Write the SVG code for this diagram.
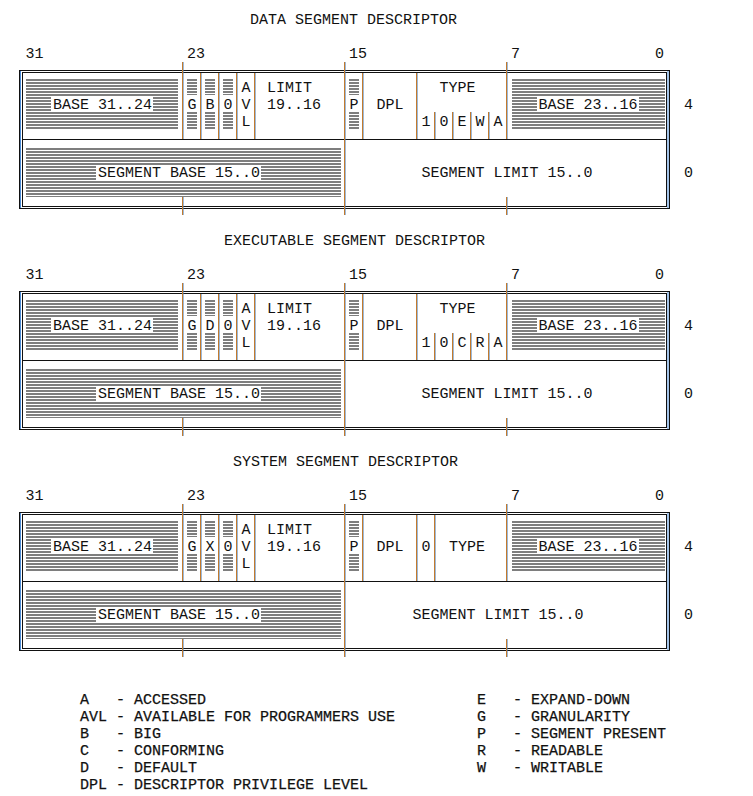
<svg xmlns="http://www.w3.org/2000/svg" width="753" height="796" viewBox="0 0 753 796">
<style>
text{font-family:"Liberation Mono","DejaVu Sans Mono",monospace;font-size:15px;fill:#111}
.m{text-anchor:middle}
.bd{fill:none;stroke:#111;stroke-width:1}
.bl{fill:none;stroke:#4a8ad4;stroke-width:1}
.dv{fill:none;stroke:#c27a2e;stroke-width:1}
.dvb{fill:none;stroke:#4d7fb8;stroke-width:1;opacity:.55}
.sh{fill:url(#stripes)}
.wb{fill:#fff}
.lg text{stroke:#111;stroke-width:0.25}
</style>
<defs>
<pattern id="stripes" patternUnits="userSpaceOnUse" x="0" y="79" width="6" height="3">
<rect x="0" y="0" width="6" height="2" fill="#7e7e7e"/>
</pattern>
</defs>
<rect width="753" height="796" fill="#fff"/>

<!-- DATA SEGMENT DESCRIPTOR -->
<g id="data-descriptor">
<text x="250" y="24">DATA SEGMENT DESCRIPTOR</text>
<g id="data-bits"><text x="25.5" y="58">31</text><text x="187" y="58">23</text><text x="349" y="58">15</text><text x="511" y="58">7</text><text x="655" y="58">0</text></g>
<g id="data-frame">
<rect class="bd" x="19.5" y="70.5" width="650" height="138"/>
<rect class="bd" x="22.5" y="72.5" width="644" height="134"/>
<path class="bl" d="M20.5 71V208M668 71V208"/>
<path class="bd" d="M22.5 139.5H666.5"/>
</g>
<g id="data-shading">
<rect class="sh" x="26" y="79" width="152" height="51"/><rect class="wb" x="51" y="96" width="102" height="16"/>
<rect class="sh" x="187" y="79" width="10" height="51"/><rect class="wb" x="187" y="95" width="10" height="17"/>
<rect class="sh" x="205" y="79" width="10" height="51"/><rect class="wb" x="205" y="95" width="10" height="17"/>
<rect class="sh" x="223" y="79" width="10" height="51"/><rect class="wb" x="223" y="95" width="10" height="17"/>
<rect class="sh" x="349" y="79" width="10" height="51"/><rect class="wb" x="349" y="95" width="10" height="17"/>
<rect class="sh" x="512" y="79" width="153" height="51"/><rect class="wb" x="537" y="97" width="102" height="15"/>
<rect class="sh" x="26" y="148" width="315" height="49"/><rect class="wb" x="96" y="165" width="165" height="16"/>
</g>
<g id="data-dividers">
<path class="dv" d="M182.5 62V139M182.5 197V215M344.5 62V215M506.5 62V139M506.5 197V215M200.5 73V139M218.5 73V139M236.5 73V139M254.5 73V139M362.5 73V139M416.5 73V139M434.5 112V139M452.5 112V139M470.5 112V139M488.5 112V139"/>
<path class="dvb" d="M183.5 62V139M183.5 197V215M345.5 62V215M507.5 62V139M507.5 197V215M201.5 73V139M219.5 73V139M237.5 73V139M255.5 73V139M363.5 73V139M417.5 73V139M435.5 112V139M453.5 112V139M471.5 112V139M489.5 112V139"/>
</g>
<g id="data-base-31-24"><text class="m" x="102.5" y="109">BASE 31..24</text></g>
<g id="data-g"><text class="m" x="192" y="109">G</text></g>
<g id="data-b"><text class="m" x="210" y="109">B</text></g>
<g id="data-0"><text class="m" x="228" y="109">0</text></g>
<g id="data-avl"><text class="m" x="246" y="92">A</text><text class="m" x="246" y="109">V</text><text class="m" x="246" y="126">L</text></g>
<g id="data-limit"><text x="267" y="92">LIMIT</text><text x="267" y="109">19..16</text></g>
<g id="data-p"><text class="m" x="354" y="109">P</text></g>
<g id="data-dpl"><text class="m" x="390" y="109">DPL</text></g>
<g id="data-type"><text class="m" x="457.5" y="92">TYPE</text><text class="m" x="426" y="126">1</text><text class="m" x="444" y="126">0</text><text class="m" x="462" y="126">E</text><text class="m" x="480" y="126">W</text><text class="m" x="498" y="126">A</text></g>
<g id="data-base-23-16"><text class="m" x="588" y="109">BASE 23..16</text></g>
<g id="data-seg-base"><text class="m" x="179" y="177">SEGMENT BASE 15..0</text></g>
<g id="data-seg-limit"><text class="m" x="507" y="177">SEGMENT LIMIT 15..0</text></g>
<g id="data-offsets"><text x="684" y="109">4</text><text x="684" y="177">0</text></g>
</g>

<!-- EXECUTABLE SEGMENT DESCRIPTOR -->
<g id="exec-descriptor" transform="translate(0,221)">
<text x="224" y="24">EXECUTABLE SEGMENT DESCRIPTOR</text>
<g id="exec-bits"><text x="25.5" y="58">31</text><text x="187" y="58">23</text><text x="349" y="58">15</text><text x="511" y="58">7</text><text x="655" y="58">0</text></g>
<g id="exec-frame">
<rect class="bd" x="19.5" y="70.5" width="650" height="138"/>
<rect class="bd" x="22.5" y="72.5" width="644" height="134"/>
<path class="bl" d="M20.5 71V208M668 71V208"/>
<path class="bd" d="M22.5 139.5H666.5"/>
</g>
<g id="exec-shading">
<rect class="sh" x="26" y="79" width="152" height="51"/><rect class="wb" x="51" y="96" width="102" height="16"/>
<rect class="sh" x="187" y="79" width="10" height="51"/><rect class="wb" x="187" y="95" width="10" height="17"/>
<rect class="sh" x="205" y="79" width="10" height="51"/><rect class="wb" x="205" y="95" width="10" height="17"/>
<rect class="sh" x="223" y="79" width="10" height="51"/><rect class="wb" x="223" y="95" width="10" height="17"/>
<rect class="sh" x="349" y="79" width="10" height="51"/><rect class="wb" x="349" y="95" width="10" height="17"/>
<rect class="sh" x="512" y="79" width="153" height="51"/><rect class="wb" x="537" y="97" width="102" height="15"/>
<rect class="sh" x="26" y="148" width="315" height="49"/><rect class="wb" x="96" y="165" width="165" height="16"/>
</g>
<g id="exec-dividers">
<path class="dv" d="M182.5 62V139M182.5 197V215M344.5 62V215M506.5 62V139M506.5 197V215M200.5 73V139M218.5 73V139M236.5 73V139M254.5 73V139M362.5 73V139M416.5 73V139M434.5 112V139M452.5 112V139M470.5 112V139M488.5 112V139"/>
<path class="dvb" d="M183.5 62V139M183.5 197V215M345.5 62V215M507.5 62V139M507.5 197V215M201.5 73V139M219.5 73V139M237.5 73V139M255.5 73V139M363.5 73V139M417.5 73V139M435.5 112V139M453.5 112V139M471.5 112V139M489.5 112V139"/>
</g>
<g id="exec-base-31-24"><text class="m" x="102.5" y="109">BASE 31..24</text></g>
<g id="exec-g"><text class="m" x="192" y="109">G</text></g>
<g id="exec-d"><text class="m" x="210" y="109">D</text></g>
<g id="exec-0"><text class="m" x="228" y="109">0</text></g>
<g id="exec-avl"><text class="m" x="246" y="92">A</text><text class="m" x="246" y="109">V</text><text class="m" x="246" y="126">L</text></g>
<g id="exec-limit"><text x="267" y="92">LIMIT</text><text x="267" y="109">19..16</text></g>
<g id="exec-p"><text class="m" x="354" y="109">P</text></g>
<g id="exec-dpl"><text class="m" x="390" y="109">DPL</text></g>
<g id="exec-type"><text class="m" x="457.5" y="92">TYPE</text><text class="m" x="426" y="126">1</text><text class="m" x="444" y="126">0</text><text class="m" x="462" y="126">C</text><text class="m" x="480" y="126">R</text><text class="m" x="498" y="126">A</text></g>
<g id="exec-base-23-16"><text class="m" x="588" y="109">BASE 23..16</text></g>
<g id="exec-seg-base"><text class="m" x="179" y="177">SEGMENT BASE 15..0</text></g>
<g id="exec-seg-limit"><text class="m" x="507" y="177">SEGMENT LIMIT 15..0</text></g>
<g id="exec-offsets"><text x="684" y="109">4</text><text x="684" y="177">0</text></g>
</g>

<!-- SYSTEM SEGMENT DESCRIPTOR -->
<g id="system-descriptor" transform="translate(0,442)">
<text x="233" y="24">SYSTEM SEGMENT DESCRIPTOR</text>
<g id="sys-bits"><text x="25.5" y="58">31</text><text x="187" y="58">23</text><text x="349" y="58">15</text><text x="511" y="58">7</text><text x="655" y="58">0</text></g>
<g id="sys-frame">
<rect class="bd" x="19.5" y="70.5" width="650" height="138"/>
<rect class="bd" x="22.5" y="72.5" width="644" height="134"/>
<path class="bl" d="M20.5 71V208M668 71V208"/>
<path class="bd" d="M22.5 139.5H666.5"/>
</g>
<g id="sys-shading">
<rect class="sh" x="26" y="79" width="152" height="51"/><rect class="wb" x="51" y="96" width="102" height="16"/>
<rect class="sh" x="187" y="79" width="10" height="51"/><rect class="wb" x="187" y="95" width="10" height="17"/>
<rect class="sh" x="205" y="79" width="10" height="51"/><rect class="wb" x="205" y="95" width="10" height="17"/>
<rect class="sh" x="223" y="79" width="10" height="51"/><rect class="wb" x="223" y="95" width="10" height="17"/>
<rect class="sh" x="349" y="79" width="10" height="51"/><rect class="wb" x="349" y="95" width="10" height="17"/>
<rect class="sh" x="512" y="79" width="153" height="51"/><rect class="wb" x="537" y="97" width="102" height="15"/>
<rect class="sh" x="26" y="148" width="315" height="49"/><rect class="wb" x="96" y="165" width="165" height="16"/>
</g>
<g id="sys-dividers">
<path class="dv" d="M182.5 62V139M182.5 197V215M344.5 62V215M506.5 62V139M506.5 197V215M200.5 73V139M218.5 73V139M236.5 73V139M254.5 73V139M362.5 73V139M416.5 73V139M434.5 73V139"/>
<path class="dvb" d="M183.5 62V139M183.5 197V215M345.5 62V215M507.5 62V139M507.5 197V215M201.5 73V139M219.5 73V139M237.5 73V139M255.5 73V139M363.5 73V139M417.5 73V139M435.5 73V139"/>
</g>
<g id="sys-base-31-24"><text class="m" x="102.5" y="109">BASE 31..24</text></g>
<g id="sys-g"><text class="m" x="192" y="109">G</text></g>
<g id="sys-x"><text class="m" x="210" y="109">X</text></g>
<g id="sys-0"><text class="m" x="228" y="109">0</text></g>
<g id="sys-avl"><text class="m" x="246" y="92">A</text><text class="m" x="246" y="109">V</text><text class="m" x="246" y="126">L</text></g>
<g id="sys-limit"><text x="267" y="92">LIMIT</text><text x="267" y="109">19..16</text></g>
<g id="sys-p"><text class="m" x="354" y="109">P</text></g>
<g id="sys-dpl"><text class="m" x="390" y="109">DPL</text></g>
<g id="sys-zero"><text class="m" x="426" y="109">0</text></g>
<g id="sys-type"><text class="m" x="467" y="109">TYPE</text></g>
<g id="sys-base-23-16"><text class="m" x="588" y="109">BASE 23..16</text></g>
<g id="sys-seg-base"><text class="m" x="179" y="177">SEGMENT BASE 15..0</text></g>
<g id="sys-seg-limit"><text class="m" x="498" y="177">SEGMENT LIMIT 15..0</text></g>
<g id="sys-offsets"><text x="684" y="109">4</text><text x="684" y="177">0</text></g>
</g>

<!-- LEGEND -->
<g id="legend" class="lg">
<text x="80" y="703.5">A</text><text x="116" y="703.5">- ACCESSED</text>
<text x="80" y="720.5">AVL</text><text x="116" y="720.5">- AVAILABLE FOR PROGRAMMERS USE</text>
<text x="80" y="737.5">B</text><text x="116" y="737.5">- BIG</text>
<text x="80" y="754.5">C</text><text x="116" y="754.5">- CONFORMING</text>
<text x="80" y="771.5">D</text><text x="116" y="771.5">- DEFAULT</text>
<text x="80" y="788.5">DPL</text><text x="116" y="788.5">- DESCRIPTOR PRIVILEGE LEVEL</text>
<text x="477" y="703.5">E</text><text x="513" y="703.5">- EXPAND-DOWN</text>
<text x="477" y="720.5">G</text><text x="513" y="720.5">- GRANULARITY</text>
<text x="477" y="737.5">P</text><text x="513" y="737.5">- SEGMENT PRESENT</text>
<text x="477" y="754.5">R</text><text x="513" y="754.5">- READABLE</text>
<text x="477" y="771.5">W</text><text x="513" y="771.5">- WRITABLE</text>
</g>
</svg>
